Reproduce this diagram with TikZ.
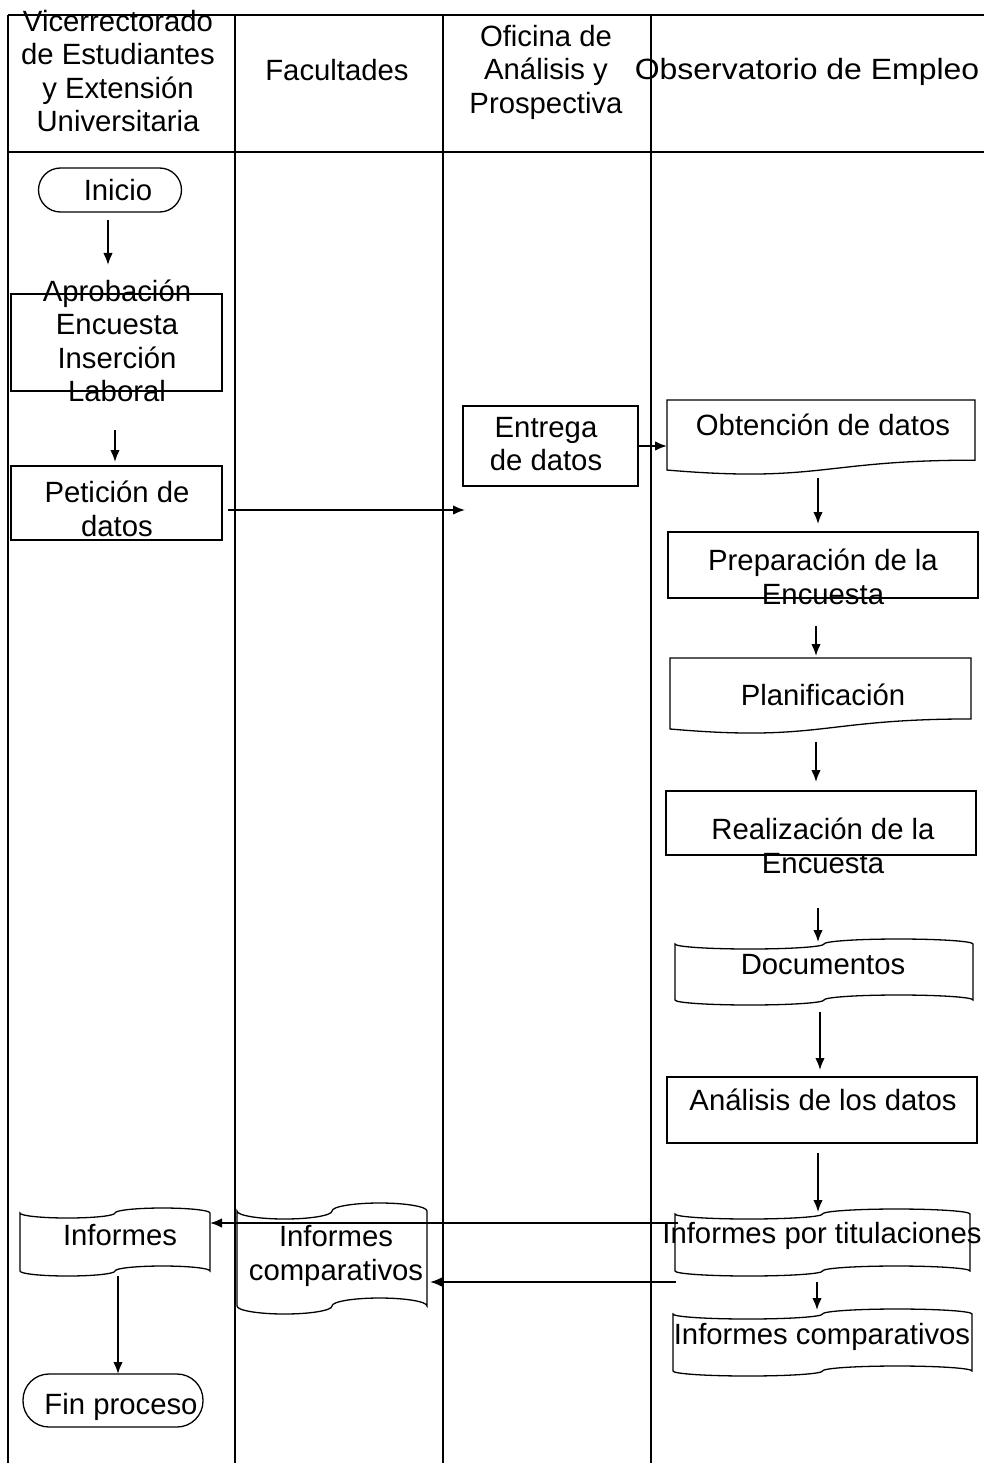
\documentclass[tikz,border=0pt]{standalone}
\usepackage{fontspec}
\usepackage{graphicx}
\setmainfont{Liberation Sans}
\usetikzlibrary{arrows.meta,calc}
\newcommand{\mkflag}[5]{%
 \pgfmathsetmacro{\flgL}{#1}\pgfmathsetmacro{\flgR}{#2}%
 \pgfmathsetmacro{\flgT}{#3}\pgfmathsetmacro{\flgB}{#4}\pgfmathsetmacro{\flgA}{#5}%
 \pgfmathsetmacro{\flgQ}{(\flgR-\flgL)/4}\pgfmathsetmacro{\flgK}{0.5523*\flgQ}\pgfmathsetmacro{\flgKA}{0.5523*\flgA}%
 \pgfmathsetmacro{\flgQa}{\flgL+\flgQ}\pgfmathsetmacro{\flgM}{\flgL+2*\flgQ}\pgfmathsetmacro{\flgQb}{\flgL+3*\flgQ}%
 \draw[shp] (\flgL,\flgT)
   .. controls (\flgL,{\flgT+\flgKA}) and ({\flgQa-\flgK},{\flgT+\flgA}) .. (\flgQa,{\flgT+\flgA})
   .. controls ({\flgQa+\flgK},{\flgT+\flgA}) and (\flgM,{\flgT+\flgKA}) .. (\flgM,\flgT)
   .. controls (\flgM,{\flgT-\flgKA}) and ({\flgQb-\flgK},{\flgT-\flgA}) .. (\flgQb,{\flgT-\flgA})
   .. controls ({\flgQb+\flgK},{\flgT-\flgA}) and (\flgR,{\flgT-\flgKA}) .. (\flgR,\flgT)
   -- (\flgR,\flgB)
   .. controls (\flgR,{\flgB-\flgKA}) and ({\flgQb+\flgK},{\flgB-\flgA}) .. (\flgQb,{\flgB-\flgA})
   .. controls ({\flgQb-\flgK},{\flgB-\flgA}) and (\flgM,{\flgB-\flgKA}) .. (\flgM,\flgB)
   .. controls (\flgM,{\flgB+\flgKA}) and ({\flgQa+\flgK},{\flgB+\flgA}) .. (\flgQa,{\flgB+\flgA})
   .. controls ({\flgQa-\flgK},{\flgB+\flgA}) and (\flgL,{\flgB+\flgKA}) .. (\flgL,\flgB)
   -- cycle;}
\newcommand{\mkdoc}[4]{%
 \pgfmathsetmacro{\dcM}{(#1+#2)/2}%
 \pgfmathsetmacro{\dcR}{#3+0.802*#4}%
 \pgfmathsetmacro{\dcC}{#3+1.1075*#4}%
 \pgfmathsetmacro{\dcL}{#3+0.934*#4}%
 \draw[shp] (#1,#3) -- (#2,#3) -- (#2,\dcR) .. controls (\dcM,\dcR) and (\dcM,\dcC) .. (#1,\dcL) -- cycle;}
\begin{document}
\begin{tikzpicture}[x=1pt,y=-1pt,
  every node/.style={font=\fontsize{29.3}{33.5}\selectfont},
  lane/.style={line width=1.2pt},
  box/.style={draw, line width=1.3pt, inner sep=0pt, outer sep=0pt},
  ghost/.style={inner sep=0pt, outer sep=0pt},
  txt/.style={inner sep=0pt, align=center},
  arr/.style={-{Latex[length=12pt,width=9.5pt]}, line width=1.7pt},
  shp/.style={line width=1.3pt}]
\useasboundingbox (0,0) rectangle (984,1463);
% swimlanes
\draw[lane] (8,15) -- (984,15);
\draw[lane] (8,152) -- (984,152);
\foreach \x in {8,235,443,651} \draw[lane] (\x,15) -- (\x,1463);
% headers
\node[txt] (hVic) at (118,71) {Vicerrectorado\\de Estudiantes\\y Extensión\\Universitaria};
\node[txt] (hFac) at (337,70) {Facultades};
\node[txt] (hOfi) at (546,72) {Oficina de\\Análisis y\\Prospectiva};
\node[txt] (hObs) at (807,72) {\scalebox{1.09}[1]{Observatorio de Empleo}};
% lane 1
\node[box, rounded corners=22pt, minimum width=143pt, minimum height=44pt] (inicio) at (110,190) {\hspace*{16pt}Inicio};
\node[box, minimum width=211pt, minimum height=97pt] (apr) at (116.5,342.5) {};
\node[txt] (aprT) at (117,341) {Aprobación\\Encuesta\\Inserción\\Laboral};
\node[box, minimum width=211pt, minimum height=74pt] (pet) at (116.5,503) {};
\node[txt] (petT) at (117,509) {Petición de\\datos};
% lane 3
\node[box, minimum width=175pt, minimum height=80pt] (ent) at (550.5,446) {};
\node[txt] (entT) at (546,444) {Entrega\\de datos};
% lane 4
\mkdoc{667}{975}{400}{75}
\node[ghost, minimum width=308pt, minimum height=73pt] (obt) at (821,436.5) {};
\node[txt] (obtT) at (823,425) {Obtención de datos};
\node[box, minimum width=310pt, minimum height=66pt] (prep) at (823,565) {};
\node[txt] (prepT) at (823,577) {Preparación de la\\Encuesta};
\mkdoc{670}{971}{658}{76}
\node[ghost, minimum width=301pt, minimum height=71pt] (plan) at (820.5,693.5) {};
\node[txt] (planT) at (823,695) {Planificación};
\node[box, minimum width=310pt, minimum height=64pt] (real) at (821,823) {};
\node[txt] (realT) at (823,846) {Realización de la\\Encuesta};
\mkflag{675}{973}{944}{1000}{5}
\node[ghost, minimum width=298pt, minimum height=66pt] (doc) at (824,972) {};
\node[txt] (docT) at (823,965) {Documentos};
\node[box, minimum width=310pt, minimum height=66pt] (anal) at (822,1110) {};
\node[txt] (analT) at (823,1100) {Análisis de los datos};
\mkflag{675}{970}{1214}{1271}{5}
\node[ghost, minimum width=295pt, minimum height=67pt] (tit) at (822.5,1242.5) {};
\mkflag{673}{972}{1314}{1371}{5}
\node[ghost, minimum width=299pt, minimum height=67pt] (comp) at (822.5,1342.5) {};
\node[txt] (compT) at (822,1337) {Informes comparativos};
% bottom left lanes
\mkflag{20}{210}{1213}{1271}{5}
\node[ghost, minimum width=190pt, minimum height=68pt] (inf) at (115,1242) {};
\node[txt] (infT) at (120,1235) {Informes};
\mkflag{237}{427}{1211}{1306}{8}
\node[ghost, minimum width=190pt, minimum height=111pt] (fcomp) at (332,1258.5) {};
\node[txt] (fcompT) at (336,1256) {Informes\\comparativos};
\node[box, rounded corners=26pt, minimum width=180pt, minimum height=53pt] (fin) at (113,1400.5) {\hspace*{16pt}\raisebox{-14pt}[0pt][0pt]{Fin proceso}};
% connectors
\draw[arr, shorten <=8pt, shorten >=29pt] ([xshift=-2pt]inicio.south) -- ([xshift=-2pt]inicio.south |- apr.north);
\draw[arr, shorten <=39pt, shorten >=4pt] ([xshift=-1.5pt]apr.south) -- ([xshift=-1.5pt]apr.south |- pet.north);
\draw[arr, shorten <=6pt, shorten >=-2pt] ([yshift=-7pt]pet.east) -- ([yshift=-7pt]pet.east -| ent.west);
\draw[arr] (ent.east) -- (ent.east -| obt.west);
\draw[arr, shorten <=5pt, shorten >=8pt] ([xshift=-3pt]obt.south) -- ([xshift=-3pt]obt.south |- prep.north);
\draw[arr, shorten <=28pt, shorten >=2pt] ([xshift=-7pt]prep.south) -- ([xshift=-7pt]prep.south |- plan.north);
\draw[arr, shorten <=13pt, shorten >=9pt] ([xshift=-4.5pt]plan.south) -- ([xshift=-4.5pt]plan.south |- real.north);
\draw[arr, shorten <=53pt, shorten >=-3pt] ([xshift=-3pt]real.south) -- ([xshift=-3pt]real.south |- doc.north);
\draw[arr, shorten <=7pt, shorten >=7pt] ([xshift=-4pt]doc.south) -- ([xshift=-4pt]doc.south |- anal.north);
\draw[arr, shorten <=10pt, shorten >=-3pt] ([xshift=-4pt]anal.south) -- ([xshift=-4pt]anal.south |- tit.north);
\draw[arr, shorten <=6pt, shorten >=-1pt] ([xshift=-5.5pt]tit.south) -- ([xshift=-5.5pt]tit.south |- comp.north);
\draw[arr, shorten <=-3pt] ([yshift=19.5pt]tit.west) -- ([yshift=19.5pt]tit.west -| inf.east);
\draw[arr, shorten <=-1pt, shorten >=3pt] ([yshift=-39.5pt]tit.west) -- ([yshift=-39.5pt]tit.west -| fcomp.east);
\draw[arr] ([xshift=3pt]inf.south) -- ([xshift=3pt]inf.south |- fin.north);
% text over the arrow
\node[txt] (titT) at (822,1236) {Informes por titulaciones};
\end{tikzpicture}
\end{document}
